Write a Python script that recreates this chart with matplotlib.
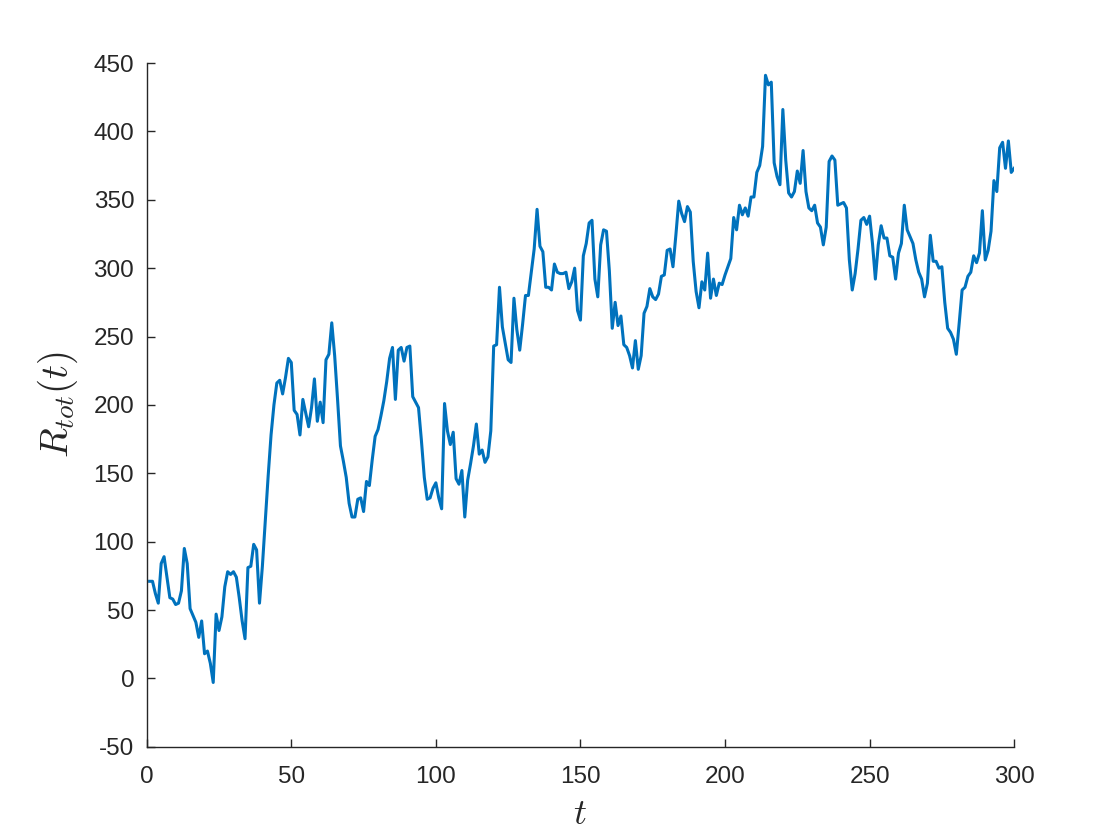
import matplotlib
matplotlib.use("Agg")
import matplotlib.pyplot as plt
import numpy as np

plt.rcParams['font.family'] = ['Liberation Sans', 'DejaVu Sans']
plt.rcParams['mathtext.fontset'] = 'cm'

t_values = list(range(1, 301))

r_part1 = [71, 71, 62, 55, 84, 89, 74, 59, 58, 54, 55, 64, 95, 84, 51, 46, 41, 30, 42, 18,
           20, 11, -3, 47, 35, 45, 67, 78, 76, 78, 74, 59, 42, 29, 81, 82, 98, 94, 55]
r_part2 = [82, 115, 148, 178, 200, 216, 218, 208, 220, 234, 231, 196, 193, 178, 204, 194,
           184, 198, 219, 188, 202, 187, 233, 237, 260, 236, 204, 170, 159, 147, 128, 118,
           118, 131, 132, 122, 144, 141]
r_part3 = [160, 177, 182, 192, 203, 217, 234, 242, 204, 240, 242, 232, 242, 243, 206, 202,
           198, 174, 147, 131, 132, 139, 143, 132, 124, 201, 181, 171, 180, 146, 142, 152,
           118, 145, 157, 170, 186]
r_part4 = [164, 167, 158, 162, 181, 243, 244, 286, 257, 245, 233, 231, 278, 255, 240, 259,
           280, 280, 297, 314, 343, 316, 312, 286, 286, 284, 303, 297, 296, 296, 297, 285,
           290, 300, 269, 262]
r_part5 = [309, 318, 333, 335, 292, 279, 317, 328, 327, 298, 256, 275, 258, 265, 244, 242,
           236, 227, 247, 226, 236, 267, 272, 285, 279, 277, 281, 294, 295, 313, 314, 301,
           324, 349, 340, 334, 345, 341]
r_part6 = [305, 283, 271, 290, 284, 311, 278, 292, 280, 289, 288, 295, 301, 307, 337, 328,
           346, 339, 344, 338, 352, 352, 370, 375, 389, 441, 434, 436, 377, 367, 361, 416,
           379, 355, 352, 356, 371, 362]
r_part7 = [386, 356, 344, 342, 346, 333, 330, 317, 330, 378, 382, 379, 346, 347, 348, 344,
           306, 284, 296, 314, 335, 337, 332, 338, 318, 292, 317, 331, 322, 322, 309, 308,
           292, 311, 318, 346, 328, 323, 318]
r_part8 = [306, 297, 292, 279, 289, 324, 305, 305, 300, 301, 275, 256, 253, 248, 237, 260,
           284, 286, 294, 297, 309, 304, 311, 342, 306, 313, 327, 364, 356, 388, 392, 373,
           393, 370, 373]

r_tot = r_part1 + r_part2 + r_part3 + r_part4 + r_part5 + r_part6 + r_part7 + r_part8
n = min(len(t_values), len(r_tot))
t_plot = t_values[:n]
r_plot = r_tot[:n]

x_ticks = [0, 50, 100, 150, 200, 250, 300]
y_ticks = [-50, 0, 50, 100, 150, 200, 250, 300, 350, 400, 450]

fig = plt.figure(figsize=(11.2, 8.4), dpi=100)
ax = fig.add_axes([0.131, 0.111, 0.7745, 0.814])
ax.plot(t_plot, r_plot, color='#0072BD', linewidth=2.2)

ax.set_xlim(0, 300)
ax.set_ylim(-50, 450)
ax.set_xticks(x_ticks)
ax.set_yticks(y_ticks)
ax.set_xticklabels([str(v) for v in x_ticks])
ax.set_yticklabels([str(v) for v in y_ticks])

ax.spines['top'].set_visible(False)
ax.spines['right'].set_visible(False)
for s in ['left', 'bottom']:
    ax.spines[s].set_color('#262626')
    ax.spines[s].set_linewidth(1.0)
ax.tick_params(axis='both', direction='in', length=6, width=1.0, colors='#262626',
               labelsize=17.5)
ax.tick_params(axis='y', pad=9)
ax.tick_params(axis='x', pad=14)

ax.set_xlabel(r'$t$', fontsize=26, color='#262626', labelpad=6)
ax.set_ylabel(r'$R_{tot}(t)$', fontsize=28, color='#262626', labelpad=10)

fig.savefig('out.png', dpi=100)
